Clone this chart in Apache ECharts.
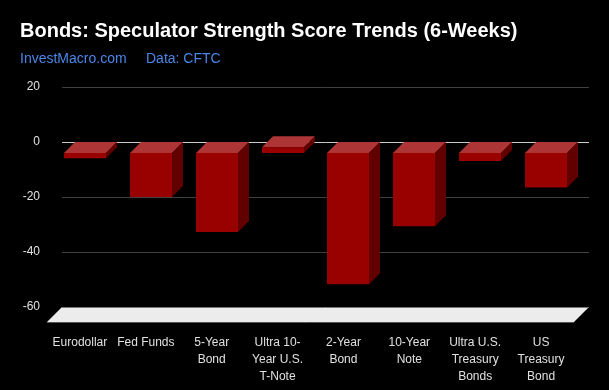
<!DOCTYPE html>
<html>
<head>
<meta charset="utf-8">
<script src="https://cdn.jsdelivr.net/npm/echarts@6/dist/echarts.min.js"></script>
<style>
html,body{margin:0;padding:0;background:#000;}
#chart{width:609px;height:390px;}
</style>
</head>
<body>
<div id="chart"></div>
<script>
const categories = ['Eurodollar', 'Fed Funds', '5-Year Bond', 'Ultra 10-Year U.S. T-Note', '2-Year Bond', '10-Year Note', 'Ultra U.S. Treasury Bonds', 'US Treasury Bond'];
const tickLabels = ['Eurodollar', 'Fed Funds', '5-Year\nBond', 'Ultra 10-\nYear U.S.\nT-Note', '2-Year\nBond', '10-Year\nNote', 'Ultra U.S.\nTreasury\nBonds', 'US\nTreasury\nBond'];
const scores = [-1.9, -16, -28.7, 2.1, -47.7, -26.6, -2.9, -12.5];
const yTicks = [-60, -40, -20, 0, 20];

const FONT = '"Liberation Sans", Arial, sans-serif';
const DEPTH = 11;
const FLOOR_DEPTH = 15;

const chart = echarts.init(document.getElementById('chart'), null, {renderer: 'canvas'});

const barData = scores.map((v, i) => [i, v]);

const option = {
  backgroundColor: '#000000',
  animation: false,
  title: [
    {
      text: 'Bonds: Speculator Strength Score Trends (6-Weeks)',
      left: 20, top: 21, padding: 0,
      textStyle: {color: '#ffffff', fontSize: 20, fontWeight: 'bold', fontFamily: FONT, lineHeight: 20}
    },
    {
      text: 'InvestMacro.com',
      left: 20, top: 52, padding: 0,
      textStyle: {color: '#4a86e8', fontSize: 14, fontWeight: 'normal', fontFamily: FONT, lineHeight: 14}
    },
    {
      text: 'Data: CFTC',
      left: 146, top: 52, padding: 0,
      textStyle: {color: '#4a86e8', fontSize: 14, fontWeight: 'normal', fontFamily: FONT, lineHeight: 14}
    }
  ],
  grid: [
    {left: 62, right: 20, top: 87, bottom: 83},
    {left: 62 - FLOOR_DEPTH, right: 20 + FLOOR_DEPTH, top: 87 + FLOOR_DEPTH, bottom: 83 - FLOOR_DEPTH}
  ],
  xAxis: [
    {
      type: 'category', gridIndex: 0, data: categories,
      axisLine: {show: false}, axisTick: {show: false}, axisLabel: {show: false}, splitLine: {show: false}
    },
    {
      type: 'category', gridIndex: 1, data: tickLabels,
      axisLine: {show: false}, axisTick: {show: false}, splitLine: {show: false},
      axisLabel: {
        show: true, interval: 0, hideOverlap: false, margin: 12,
        color: '#e0e0e0', fontSize: 12, fontFamily: FONT, lineHeight: 17, align: 'center'
      }
    }
  ],
  yAxis: [
    {
      type: 'value', gridIndex: 0, min: yTicks[0], max: yTicks[yTicks.length - 1], interval: 20,
      axisLine: {show: false}, axisTick: {show: false},
      axisLabel: {color: '#e0e0e0', fontSize: 12, fontFamily: FONT, margin: 22},
      splitLine: {show: true, lineStyle: {color: ['#666666', '#404040', '#404040', '#cccccc', '#404040'], width: 1}}
    },
    {
      type: 'value', gridIndex: 1, min: yTicks[0], max: yTicks[yTicks.length - 1], interval: 20,
      show: false
    }
  ],
  series: [
    {
      type: 'custom',
      name: 'floor',
      xAxisIndex: 0, yAxisIndex: 0,
      data: [[0, yTicks[0]]],
      silent: true,
      z: 1,
      renderItem: function (params, api) {
        const cs = params.coordSys;
        const yb = cs.y + cs.height;
        const x0 = cs.x, x1 = cs.x + cs.width;
        const fd = FLOOR_DEPTH;
        return {
          type: 'group',
          children: [
            {
              type: 'polygon',
              shape: {points: [[x0, yb], [x1, yb], [x1 - fd, yb + fd], [x0 - fd, yb + fd]]},
              style: {fill: '#ececec', stroke: null}
            },
            {
              type: 'line',
              shape: {x1: x0, y1: yb + 0.5, x2: x1, y2: yb + 0.5},
              style: {stroke: '#777777', lineWidth: 1}
            },
            {
              type: 'line',
              shape: {x1: x0 - fd, y1: yb + fd + 0.5, x2: x1 - fd, y2: yb + fd + 0.5},
              style: {stroke: '#555555', lineWidth: 1}
            }
          ]
        };
      }
    },
    {
      type: 'custom',
      name: 'Strength Score',
      xAxisIndex: 0, yAxisIndex: 0,
      data: barData,
      z: 3,
      renderItem: function (params, api) {
        const idx = api.value(0);
        const v = api.value(1);
        const p0 = api.coord([idx, 0]);
        const pv = api.coord([idx, v]);
        const catW = api.size([1, 0])[0];
        const w = Math.round(catW * 0.64);
        const d = DEPTH;
        const xb = Math.round(p0[0] - w / 2 + 1);
        const yTopB = Math.min(p0[1], pv[1]);
        const yBotB = Math.max(p0[1], pv[1]);
        const xf = xb - d;
        const yTopF = yTopB + d;
        const yBotF = yBotB + d;
        return {
          type: 'group',
          children: [
            {
              type: 'polygon',
              shape: {points: [[xf, yTopF], [xf + w, yTopF], [xb + w, yTopB], [xb, yTopB]]},
              style: {fill: '#ae3535'}
            },
            {
              type: 'polygon',
              shape: {points: [[xf + w, yTopF], [xb + w, yTopB], [xb + w, yBotB], [xf + w, yBotF]]},
              style: {fill: '#620000'}
            },
            {
              type: 'rect',
              shape: {x: xf, y: yTopF, width: w, height: yBotF - yTopF},
              style: {fill: '#990000'}
            }
          ]
        };
      }
    }
  ]
};

chart.setOption(option);
</script>
</body>
</html>
